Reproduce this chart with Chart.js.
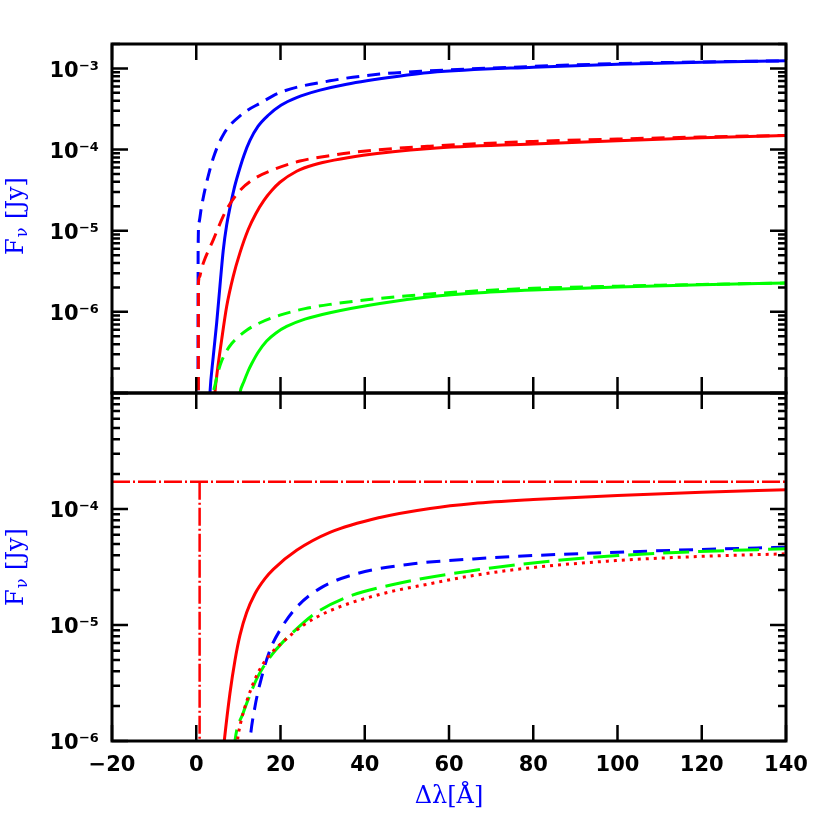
<!DOCTYPE html>
<html><head><meta charset="utf-8">
<script src="https://cdn.jsdelivr.net/npm/chart.js@4.4.1/dist/chart.umd.min.js"></script>
<style>
html,body{margin:0;padding:0;background:#fff;width:830px;height:830px;overflow:hidden}
.box{position:absolute;left:0;width:830px}
</style></head><body>
<div class="box" style="top:0;height:400px"><canvas id="c1"></canvas></div>
<div class="box" style="top:386px;height:444px"><canvas id="c2"></canvas></div>
<script>
// ---------- axes ----------
const xRange = [-20, 140];
const xTicks = [-20, 0, 20, 40, 60, 80, 100, 120, 140];
const xTickLabels = ['\u221220', '0', '20', '40', '60', '80', '100', '120', '140'];
const topRange = [1e-7, 2e-3];
const topYTicks = [1e-3, 1e-4, 1e-5, 1e-6];
const topYLabels = ['10\u207B\u00B3', '10\u207B\u2074', '10\u207B\u2075', '10\u207B\u2076'];
const botRange = [1e-6, 1e-3];
const botYTicks = [1e-4, 1e-5, 1e-6];
const botYLabels = ['10\u207B\u2074', '10\u207B\u2075', '10\u207B\u2076'];

// ---------- top panel series ----------
const topBlueSolidX = [3.0, 3.25, 4.04, 4.84, 5.63, 6.41, 7.22, 8.0, 8.95, 9.97, 11.32, 12.75, 14.65, 17.09, 20.1, 23.83, 29.4, 35.7, 47.6, 55.5, 80, 100, 120, 140];
const topBlueSolidY = [5e-8, 1e-7, 2.82e-7, 7.24e-7, 2.09e-6, 5.75e-6, 1.175e-5, 1.92e-5, 3.24e-5, 5.07e-5, 8.47e-5, 1.297e-4, 1.93e-4, 2.65e-4, 3.52e-4, 4.38e-4, 5.40e-4, 6.40e-4, 7.96e-4, 8.91e-4, 1.035e-3, 1.122e-3, 1.189e-3, 1.242e-3];

const topBlueDashX = [0.4, 0.45, 0.64, 1.2, 2.18, 4.08, 6.46, 10.85, 15.36, 19.87, 31.74, 43.6, 55.5, 80, 100, 120, 140];
const topBlueDashY = [1e-8, 6.31e-6, 1.253e-5, 1.905e-5, 3.40e-5, 7.98e-5, 1.538e-4, 2.72e-4, 3.78e-4, 5.05e-4, 7.03e-4, 8.51e-4, 9.33e-4, 1.059e-3, 1.148e-3, 1.202e-3, 1.242e-3];

const topRedSolidX = [4.2, 4.44, 4.84, 6.03, 7.22, 8.78, 10.37, 12.34, 14.17, 16.07, 17.97, 19.87, 23.83, 27.77, 39.64, 55.5, 80, 100, 120, 140];
const topRedSolidY = [5e-8, 1e-7, 1.585e-7, 4.52e-7, 1.167e-6, 2.74e-6, 5.33e-6, 1.035e-5, 1.633e-5, 2.366e-5, 3.148e-5, 3.954e-5, 5.41e-5, 6.46e-5, 8.51e-5, 1.033e-4, 1.175e-4, 1.288e-4, 1.396e-4, 1.496e-4];

const topRedDashX = [0.5, 0.52, 0.8, 1.15, 1.66, 4.04, 6.81, 10.14, 13.46, 18.69, 24.62, 31.26, 39.64, 55.5, 80, 100, 120, 140];
const topRedDashY = [1e-8, 2.28e-6, 2.69e-6, 3.24e-6, 3.97e-6, 7.71e-6, 1.667e-5, 3.03e-5, 4.27e-5, 5.75e-5, 7.23e-5, 8.34e-5, 9.55e-5, 1.10e-4, 1.259e-4, 1.349e-4, 1.429e-4, 1.496e-4];

const topGreenSolidX = [10.0, 10.37, 11.32, 12.27, 13.15, 14.65, 16.71, 18.92, 21.46, 25.8, 31.74, 43.6, 55.5, 67.4, 80, 100, 120, 140];
const topGreenSolidY = [7e-8, 1e-7, 1.384e-7, 1.84e-7, 2.29e-7, 3.16e-7, 4.37e-7, 5.50e-7, 6.61e-7, 8.13e-7, 9.77e-7, 1.27e-6, 1.535e-6, 1.718e-6, 1.854e-6, 2.018e-6, 2.153e-6, 2.265e-6];

const topGreenDashX = [3.8, 4.08, 4.56, 5.15, 6.10, 7.17, 8.47, 10.02, 11.96, 14.65, 19.87, 25.8, 31.74, 43.6, 55.5, 67.4, 80, 100, 120, 140];
const topGreenDashY = [6e-8, 9.86e-8, 1.312e-7, 1.795e-7, 2.53e-7, 3.27e-7, 4.10e-7, 4.93e-7, 5.94e-7, 7.14e-7, 9.10e-7, 1.096e-6, 1.236e-6, 1.466e-6, 1.66e-6, 1.82e-6, 1.95e-6, 2.075e-6, 2.178e-6, 2.265e-6];

// ---------- bottom panel series ----------
const botRedSolidX = [6.3, 6.65, 8.0, 9.19, 10.37, 11.96, 13.94, 16.31, 18.28, 23.83, 31.74, 43.6, 55.5, 65.76, 80, 100, 120, 140];
const botRedSolidY = [7.5e-7, 1e-6, 2.58e-6, 4.95e-6, 8.13e-6, 1.28e-5, 1.86e-5, 2.51e-5, 3.02e-5, 4.40e-5, 6.28e-5, 8.45e-5, 1.012e-4, 1.117e-4, 1.208e-4, 1.309e-4, 1.393e-4, 1.466e-4];

const botBlueDashX = [12.5, 12.75, 13.93, 15.53, 17.5, 19.87, 23.83, 29.37, 38.08, 51.5, 65.76, 80, 100.1, 119.6, 140];
const botBlueDashY = [7.5e-7, 1e-6, 1.968e-6, 3.56e-6, 6.08e-6, 9.02e-6, 1.422e-5, 2.07e-5, 2.77e-5, 3.37e-5, 3.71e-5, 3.97e-5, 4.24e-5, 4.48e-5, 4.68e-5];

const botGreenLongX = [8.9, 9.19, 11.16, 12.75, 14.34, 16.07, 17.97, 20.11, 22.24, 27.77, 35.7, 47.57, 65.76, 79.93, 100.1, 119.6, 140];
const botGreenLongY = [7.5e-7, 1e-6, 1.75e-6, 2.49e-6, 3.43e-6, 4.43e-6, 5.56e-6, 6.84e-6, 8.17e-6, 1.225e-5, 1.733e-5, 2.27e-5, 2.95e-5, 3.43e-5, 3.97e-5, 4.30e-5, 4.54e-5];

const botRedDotX = [9.5, 9.78, 10.49, 11.56, 12.75, 14.17, 15.84, 17.74, 19.87, 25.4, 31.74, 43.6, 55.5, 65.76, 79.93, 100.1, 119.6, 140];
const botRedDotY = [7.5e-7, 1e-6, 1.406e-6, 1.968e-6, 2.65e-6, 3.56e-6, 4.61e-6, 5.68e-6, 6.78e-6, 9.95e-6, 1.327e-5, 1.837e-5, 2.27e-5, 2.67e-5, 3.13e-5, 3.60e-5, 3.90e-5, 4.11e-5];

const botContHX = [-20, 0.8, 140];
const botContHY = [1.72e-4, 1.72e-4, 1.72e-4];
const botContVX = [0.8, 0.8];
const botContVY = [1.72e-4, 1e-8];

// ---------- styling ----------
const BLUE = 'rgb(0,0,255)', RED = 'rgb(255,0,0)', GREEN = 'rgb(0,255,0)';
const tickFont = {family: 'DejaVu Sans', size: 21, weight: 'bold'};
const titleFont = '24px "DejaVu Serif"';
const subFont = '16px "DejaVu Serif"';

const pts = (xs, ys) => xs.map((x, i) => ({x: x, y: ys[i]}));
function curve(xs, ys, color, dash, smooth = true, width = 3) {
  return {
    data: pts(xs, ys), borderColor: color, borderWidth: width, borderDash: dash,
    pointRadius: 0, fill: false, tension: smooth ? 0.4 : 0,
    cubicInterpolationMode: smooth ? 'monotone' : 'default'
  };
}

const framePlugin = {
  id: 'frame',
  afterDatasetsDraw(chart) {
    const {ctx, chartArea: a, scales} = chart;
    const xs = scales.x, ys = scales.y;
    ctx.save();
    ctx.strokeStyle = '#000';
    ctx.lineWidth = 2.5;
    ctx.beginPath();
    xTicks.forEach(v => {
      const px = xs.getPixelForValue(v);
      ctx.moveTo(px, a.bottom); ctx.lineTo(px, a.bottom - 16);
      ctx.moveTo(px, a.top); ctx.lineTo(px, a.top + 16);
    });
    const lo = Math.floor(Math.log10(ys.min)), hi = Math.ceil(Math.log10(ys.max));
    for (let d = lo; d <= hi; d++) {
      for (let m = 1; m <= 9; m++) {
        const v = m * Math.pow(10, d);
        if (v < ys.min * 0.999 || v > ys.max * 1.001) continue;
        const py = ys.getPixelForValue(v);
        const len = m === 1 ? 16 : 8;
        ctx.moveTo(a.left, py); ctx.lineTo(a.left + len, py);
        ctx.moveTo(a.right, py); ctx.lineTo(a.right - len, py);
      }
    }
    ctx.stroke();
    ctx.lineWidth = 3;
    ctx.strokeRect(a.left, a.top, a.right - a.left, a.bottom - a.top);
    ctx.restore();
  }
};

function drawYTitle(ctx, cx, cy) {
  ctx.save();
  ctx.fillStyle = BLUE;
  ctx.textBaseline = 'middle';
  ctx.textAlign = 'left';
  ctx.translate(cx, cy);
  ctx.rotate(-Math.PI / 2);
  ctx.font = titleFont;
  const wF = ctx.measureText('F').width;
  const wR = ctx.measureText(' [Jy]').width;
  ctx.font = subFont;
  const wN = ctx.measureText('\u03BD').width;
  let x = -(wF + wN + wR + 2) / 2;
  ctx.font = titleFont; ctx.fillText('F', x, 0); x += wF + 1;
  ctx.font = subFont; ctx.fillText('\u03BD', x, 6); x += wN + 1;
  ctx.font = titleFont; ctx.fillText(' [Jy]', x, 0);
  ctx.restore();
}

const titlePlugin = {
  id: 'titles',
  afterDraw(chart, args, opts) {
    const ctx = chart.ctx;
    drawYTitle(ctx, 17, opts.yTitleY);
    if (opts.xTitle) {
      ctx.save();
      ctx.fillStyle = BLUE;
      ctx.font = titleFont;
      ctx.textAlign = 'center';
      ctx.textBaseline = 'middle';
      ctx.fillText('\u0394\u03BB[\u00C5]', (chart.chartArea.left + chart.chartArea.right) / 2, opts.xTitleY);
      ctx.restore();
    }
  }
};

function yScale(range, ticks, labels) {
  return {
    type: 'logarithmic', min: range[0], max: range[1],
    grid: {display: false, drawTicks: false}, border: {display: false},
    afterBuildTicks: s => { s.ticks = ticks.map(v => ({value: v})); },
    afterFit: s => { s.width = 112; s.paddingTop = 0; s.paddingBottom = 0; },
    ticks: {
      autoSkip: false, font: tickFont, color: '#000', padding: 13, labelOffset: 3,
      callback: (v, i) => labels[i]
    }
  };
}

// ---------- top chart ----------
new Chart(document.getElementById('c1'), {
  type: 'line',
  data: {datasets: [
    curve(topGreenSolidX, topGreenSolidY, GREEN, []),
    curve(topGreenDashX, topGreenDashY, GREEN, [13, 8]),
    curve(topRedSolidX, topRedSolidY, RED, []),
    curve(topRedDashX, topRedDashY, RED, [13, 8]),
    curve(topBlueSolidX, topBlueSolidY, BLUE, []),
    curve(topBlueDashX, topBlueDashY, BLUE, [13, 8])
  ]},
  options: {
    animation: false, responsive: true, maintainAspectRatio: false,
    layout: {padding: {left: 0, top: 44, right: 44, bottom: 7}},
    plugins: {legend: {display: false}, tooltip: {enabled: false},
      titles: {yTitleY: 216, xTitle: false}},
    scales: {
      x: {type: 'linear', min: xRange[0], max: xRange[1], display: false},
      y: yScale(topRange, topYTicks, topYLabels)
    }
  },
  plugins: [framePlugin, titlePlugin]
});

// ---------- bottom chart ----------
new Chart(document.getElementById('c2'), {
  type: 'line',
  data: {datasets: [
    curve(botContHX, botContHY, RED, [18, 3, 2, 3], false, 2.5),
    curve(botContVX, botContVY, RED, [18, 3, 2, 3], false, 2.5),
    curve(botRedDotX, botRedDotY, RED, [3, 5]),
    curve(botGreenLongX, botGreenLongY, GREEN, [26, 9]),
    curve(botBlueDashX, botBlueDashY, BLUE, [14, 9]),
    curve(botRedSolidX, botRedSolidY, RED, [])
  ]},
  options: {
    animation: false, responsive: true, maintainAspectRatio: false,
    layout: {padding: {left: 0, top: 7, right: 44, bottom: 0}},
    plugins: {legend: {display: false}, tooltip: {enabled: false},
      titles: {yTitleY: 567 - 386, xTitle: true, xTitleY: 797 - 386}},
    scales: {
      x: {
        type: 'linear', min: xRange[0], max: xRange[1],
        grid: {display: false, drawTicks: false}, border: {display: false},
        afterBuildTicks: s => { s.ticks = xTicks.map(v => ({value: v})); },
        afterFit: s => { s.height = 89; s.paddingLeft = 0; s.paddingRight = 0; },
        ticks: {autoSkip: false, maxRotation: 0, font: tickFont, color: '#000', padding: 12,
          callback: (v, i) => xTickLabels[i]}
      },
      y: yScale(botRange, botYTicks, botYLabels)
    }
  },
  plugins: [framePlugin, titlePlugin]
});
</script>
</body></html>
